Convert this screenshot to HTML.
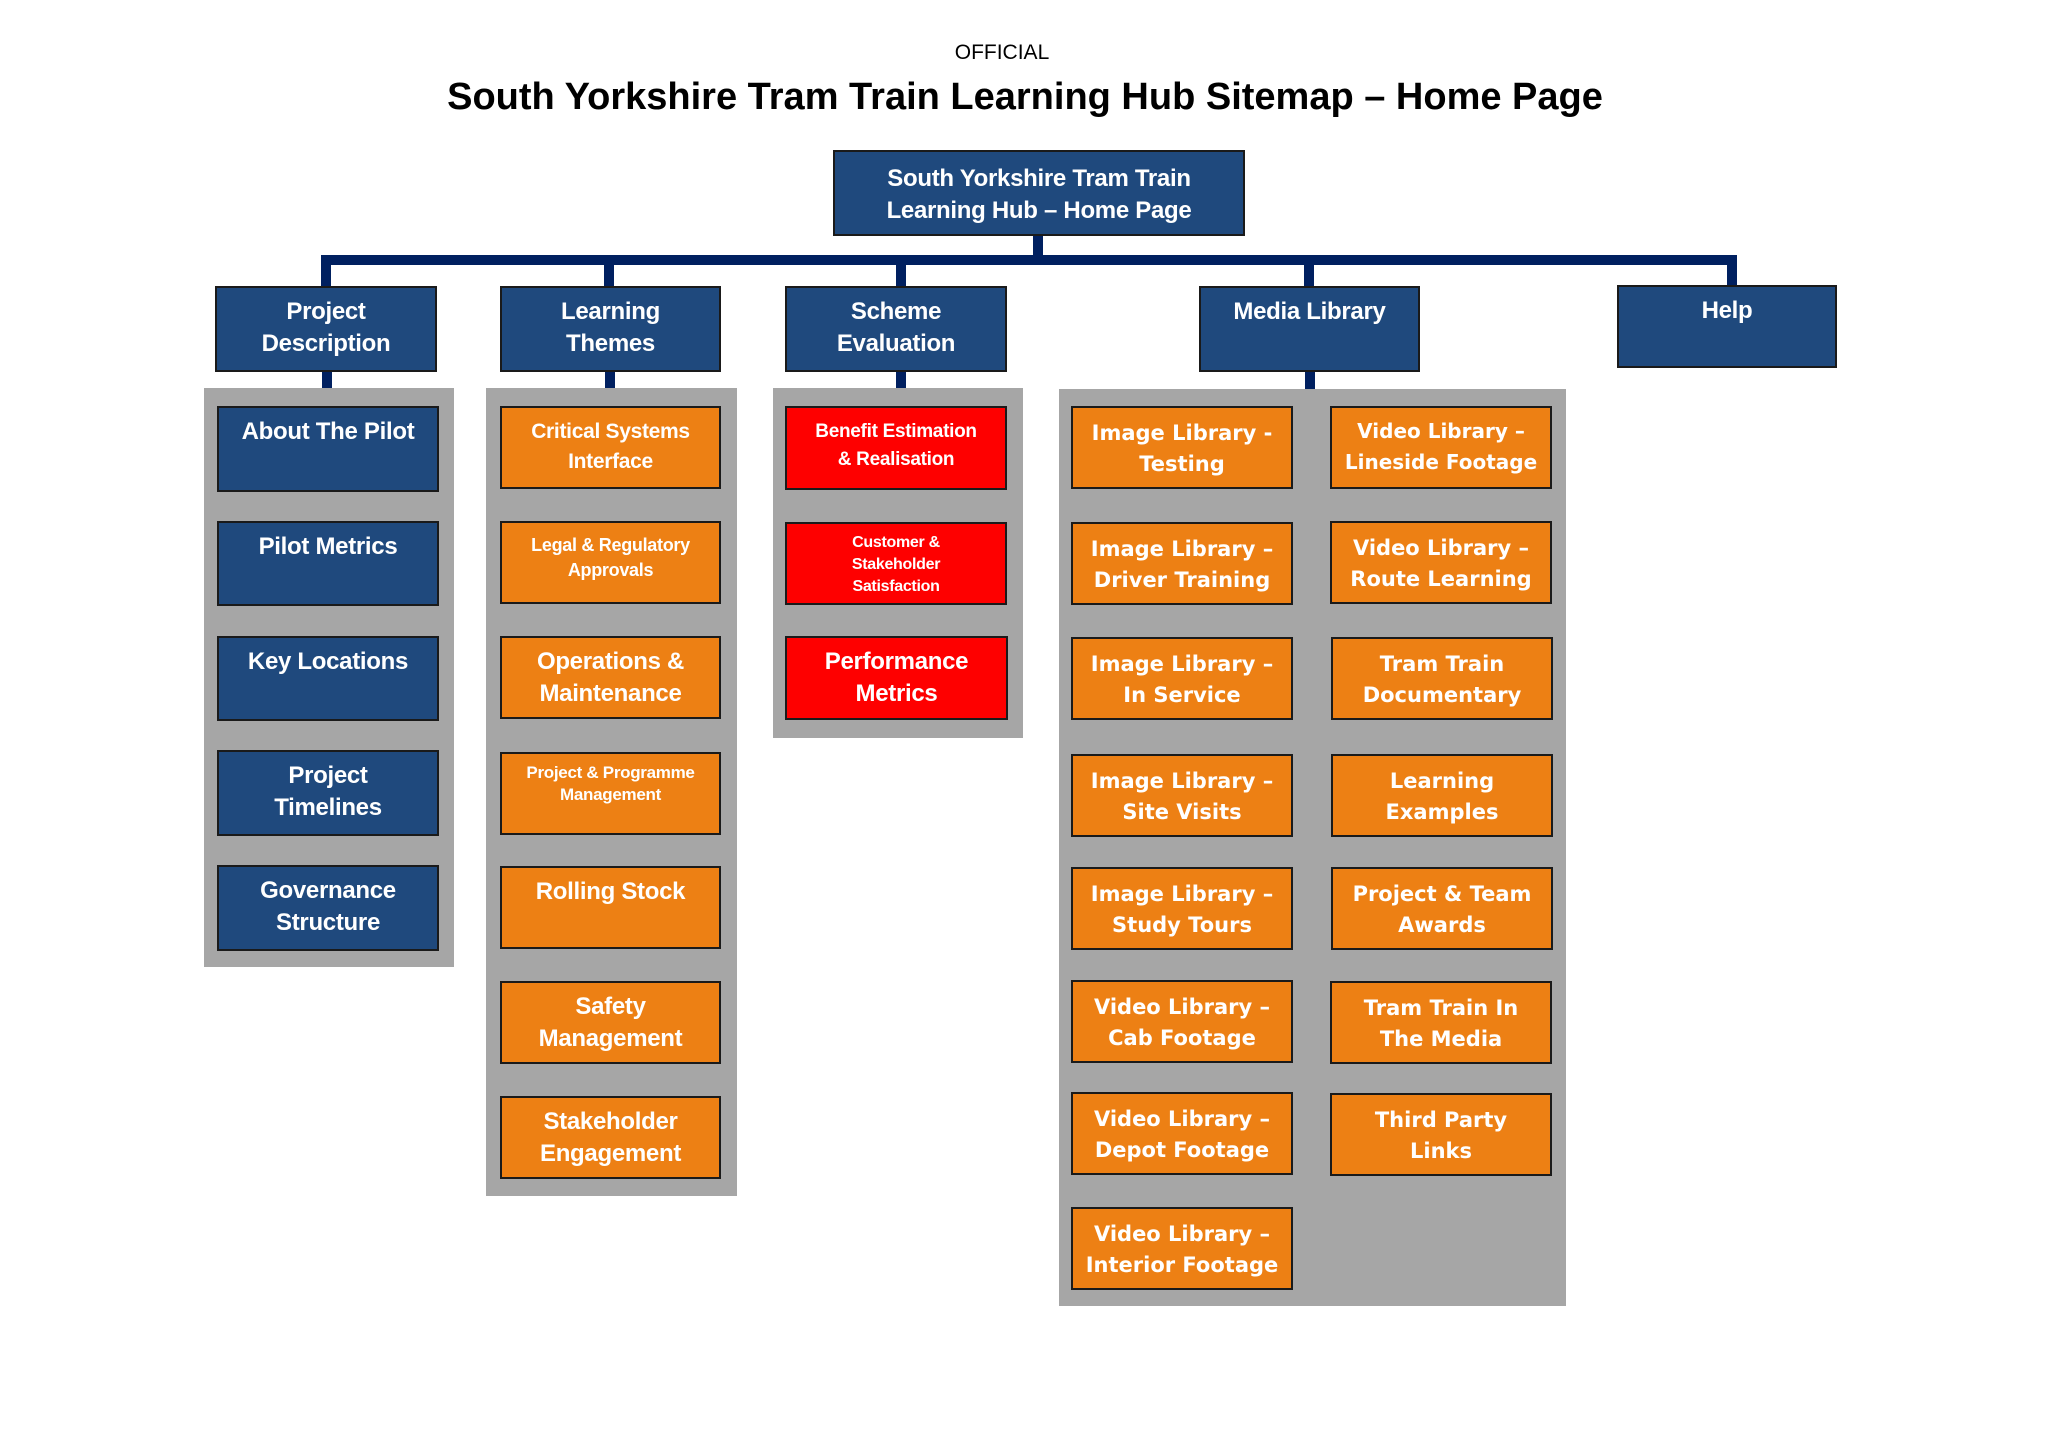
<!DOCTYPE html>
<html><head><meta charset="utf-8"><style>
body{margin:0;width:2048px;height:1447px;background:#fff;position:relative;overflow:hidden;font-family:"Liberation Sans",sans-serif}
.a{position:absolute}
.t{position:absolute;left:0;width:2048px;text-align:center;color:#000}
.p{position:absolute;background:#a6a6a6}
.l{position:absolute;background:#002060}
.b{position:absolute;box-sizing:border-box;border:2px solid #1a1a1a;color:#fff;font-weight:bold;text-align:center;font-size:24px;line-height:32px;padding-top:8px;letter-spacing:-0.3px}
.n{background:#1f497d}
.o{background:#ed8014}
.r{background:#fe0000}
.m{font-family:"DejaVu Sans",sans-serif;font-size:21px;line-height:31px;padding-top:10px;letter-spacing:0}
.s{font-size:18px;line-height:25px;padding-top:10px}
.xs{font-size:16px;line-height:22px;padding-top:8px}
</style></head><body>
<div class="t" style="top:41px;font-size:21px;left:-22px">OFFICIAL</div>
<div class="t" style="top:76px;font-size:38px;font-weight:bold;left:1px">South Yorkshire Tram Train Learning Hub Sitemap – Home Page</div>

<div class="b n" style="left:833px;top:150px;width:412px;height:86px;padding-top:11px">South Yorkshire Tram Train<br>Learning Hub – Home Page</div>
<div class="l" style="left:1033px;top:236px;width:10px;height:28px"></div>
<div class="l" style="left:321px;top:255px;width:1416px;height:10px"></div>
<div class="l" style="left:321px;top:255px;width:10px;height:32px"></div>
<div class="l" style="left:604px;top:255px;width:10px;height:32px"></div>
<div class="l" style="left:896px;top:255px;width:10px;height:32px"></div>
<div class="l" style="left:1304px;top:255px;width:10px;height:32px"></div>
<div class="l" style="left:1727px;top:255px;width:10px;height:32px"></div>

<div class="b n" style="left:215px;top:286px;width:222px;height:86px">Project<br>Description</div>
<div class="b n" style="left:500px;top:286px;width:221px;height:86px">Learning<br>Themes</div>
<div class="b n" style="left:785px;top:286px;width:222px;height:86px">Scheme<br>Evaluation</div>
<div class="b n" style="left:1199px;top:286px;width:221px;height:86px">Media Library</div>
<div class="b n" style="left:1617px;top:285px;width:220px;height:83px">Help</div>

<div class="l" style="left:322px;top:372px;width:10px;height:18px"></div>
<div class="l" style="left:605px;top:372px;width:10px;height:18px"></div>
<div class="l" style="left:896px;top:372px;width:10px;height:18px"></div>
<div class="l" style="left:1305px;top:372px;width:10px;height:18px"></div>

<div class="p" style="left:204px;top:388px;width:250px;height:579px"></div>
<div class="p" style="left:486px;top:388px;width:251px;height:808px"></div>
<div class="p" style="left:773px;top:388px;width:250px;height:350px"></div>
<div class="p" style="left:1059px;top:389px;width:507px;height:917px"></div>

<div class="b n" style="left:217px;top:406px;width:222px;height:86px">About The Pilot</div>
<div class="b n" style="left:217px;top:521px;width:222px;height:85px">Pilot Metrics</div>
<div class="b n" style="left:217px;top:636px;width:222px;height:85px">Key Locations</div>
<div class="b n" style="left:217px;top:750px;width:222px;height:86px">Project<br>Timelines</div>
<div class="b n" style="left:217px;top:865px;width:222px;height:86px">Governance<br>Structure</div>

<div class="b o s" style="left:500px;top:406px;width:221px;height:83px;font-size:21px;line-height:30px;padding-top:9px">Critical Systems<br>Interface</div>
<div class="b o s" style="left:500px;top:521px;width:221px;height:83px">Legal &amp; Regulatory<br>Approvals</div>
<div class="b o" style="left:500px;top:636px;width:221px;height:83px">Operations &amp;<br>Maintenance</div>
<div class="b o xs" style="left:500px;top:752px;width:221px;height:83px;font-size:17px">Project &amp; Programme<br>Management</div>
<div class="b o" style="left:500px;top:866px;width:221px;height:83px">Rolling Stock</div>
<div class="b o" style="left:500px;top:981px;width:221px;height:83px">Safety<br>Management</div>
<div class="b o" style="left:500px;top:1096px;width:221px;height:83px">Stakeholder<br>Engagement</div>

<div class="b r s" style="left:785px;top:406px;width:222px;height:84px;font-size:19px;line-height:28px">Benefit Estimation<br>&amp; Realisation</div>
<div class="b r xs" style="left:785px;top:522px;width:222px;height:83px">Customer &amp;<br>Stakeholder<br>Satisfaction</div>
<div class="b r" style="left:785px;top:636px;width:223px;height:84px">Performance<br>Metrics</div>

<div class="b o m" style="left:1071px;top:406px;width:222px;height:83px">Image Library -<br>Testing</div>
<div class="b o m" style="left:1071px;top:522px;width:222px;height:83px">Image Library –<br>Driver Training</div>
<div class="b o m" style="left:1071px;top:637px;width:222px;height:83px">Image Library –<br>In Service</div>
<div class="b o m" style="left:1071px;top:754px;width:222px;height:83px">Image Library –<br>Site Visits</div>
<div class="b o m" style="left:1071px;top:867px;width:222px;height:83px">Image Library –<br>Study Tours</div>
<div class="b o m" style="left:1071px;top:980px;width:222px;height:83px">Video Library –<br>Cab Footage</div>
<div class="b o m" style="left:1071px;top:1092px;width:222px;height:83px">Video Library –<br>Depot Footage</div>
<div class="b o m" style="left:1071px;top:1207px;width:222px;height:83px">Video Library –<br>Interior Footage</div>

<div class="b o m" style="left:1330px;top:406px;width:222px;height:83px;font-size:20px;padding-top:8px">Video Library –<br>Lineside Footage</div>
<div class="b o m" style="left:1330px;top:521px;width:222px;height:83px">Video Library –<br>Route Learning</div>
<div class="b o m" style="left:1331px;top:637px;width:222px;height:83px">Tram Train<br>Documentary</div>
<div class="b o m" style="left:1331px;top:754px;width:222px;height:83px">Learning<br>Examples</div>
<div class="b o m" style="left:1331px;top:867px;width:222px;height:83px">Project &amp; Team<br>Awards</div>
<div class="b o m" style="left:1330px;top:981px;width:222px;height:83px">Tram Train In<br>The Media</div>
<div class="b o m" style="left:1330px;top:1093px;width:222px;height:83px">Third Party<br>Links</div>
</body></html>
